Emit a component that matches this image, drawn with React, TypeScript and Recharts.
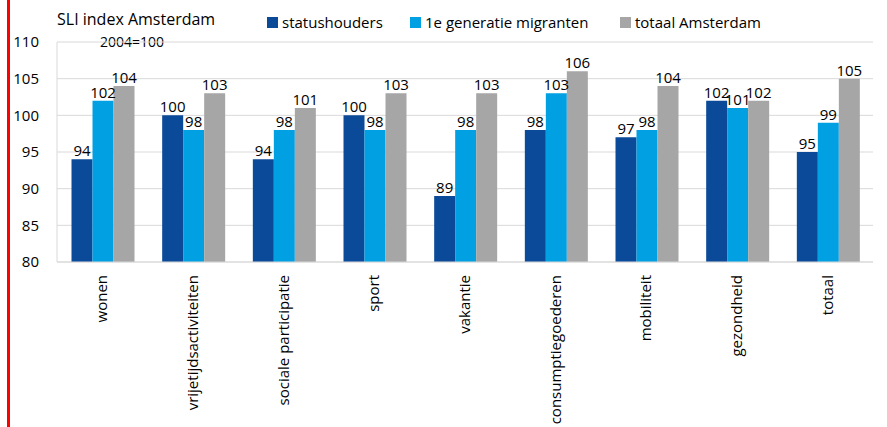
import React from 'react';
import { BarChart, Bar, XAxis, YAxis, CartesianGrid, LabelList } from 'recharts';

const CATEGORIEEN = ['wonen', 'vrijetijdsactiviteiten', 'sociale participatie', 'sport', 'vakantie', 'consumptiegoederen', 'mobiliteit', 'gezondheid', 'totaal'];
const STATUSHOUDERS = [94, 100, 94, 100, 89, 98, 97, 102, 95];
const MIGRANTEN = [102, 98, 98, 98, 98, 103, 98, 101, 99];
const TOTAAL = [104, 103, 101, 103, 103, 106, 104, 102, 105];
const Y_TICKS = [80, 85, 90, 95, 100, 105, 110];

const SERIES = [
  { key: 'statushouders', name: 'statushouders', color: '#0B4A99' },
  { key: 'migranten', name: '1e generatie migranten', color: '#00A0E3' },
  { key: 'totaal', name: 'totaal Amsterdam', color: '#A6A6A6' },
];

const FONT = '"Open Sans", sans-serif';

const data = CATEGORIEEN.map((cat, i) => ({
  cat,
  statushouders: STATUSHOUDERS[i],
  migranten: MIGRANTEN[i],
  totaal: TOTAAL[i],
}));

// verticale labels onder de as
const XTick = (props: any) => {
  const { x, y, payload } = props;
  return (
    <text
      transform={`translate(${x + 5},${y + 5}) rotate(-90)`}
      textAnchor="end"
      fontSize={15}
      fontFamily={FONT}
      fill="#000"
    >
      {payload.value}
    </text>
  );
};

const LEGEND_X = [267, 410, 620];

const App: React.FC = () => {
  return (
    <div style={{ position: 'absolute', left: 0, top: 0, width: 887, height: 427, background: '#fff', fontFamily: FONT }}>
      <div style={{ position: 'absolute', left: 7, top: 0, width: 3, height: 427, background: '#FF0000' }} />
      <div style={{ position: 'absolute', left: 57, top: 8, fontSize: 16, color: '#000' }}>SLI index Amsterdam</div>
      <div style={{ position: 'absolute', left: 100, top: 32, fontSize: 14, color: '#000' }}>2004=100</div>
      {SERIES.map((s, i) => (
        <div key={s.key} style={{ position: 'absolute', left: LEGEND_X[i], top: 12, display: 'flex', alignItems: 'center', fontSize: 15, color: '#000', whiteSpace: 'nowrap' }}>
          <span style={{ width: 11, height: 11, background: s.color, display: 'inline-block', marginRight: 4 }} />
          <span>{s.name}</span>
        </div>
      ))}
      <BarChart
        width={887}
        height={427}
        data={data}
        margin={{ top: 42, right: 14, left: 12, bottom: 0 }}
        barCategoryGap="16%"
        barGap={0}
      >
        <CartesianGrid vertical={false} stroke="#D9D9D9" />
        <XAxis
          dataKey="cat"
          height={165}
          interval={0}
          tick={<XTick />}
          tickLine={false}
          axisLine={{ stroke: '#D9D9D9' }}
        />
        <YAxis
          domain={[80, 110]}
          ticks={Y_TICKS}
          width={45}
          tickLine={false}
          axisLine={{ stroke: '#D9D9D9' }}
          tick={{ fontSize: 15, fill: '#000', fontFamily: FONT }}
          tickMargin={12}
          allowDataOverflow
        />
        {SERIES.map((s) => (
          <Bar key={s.key} dataKey={s.key} name={s.name} fill={s.color} isAnimationActive={false}>
            <LabelList dataKey={s.key} position="top" offset={3} fontSize={15} fill="#000" fontFamily={FONT} />
          </Bar>
        ))}
      </BarChart>
    </div>
  );
};

export default App;
